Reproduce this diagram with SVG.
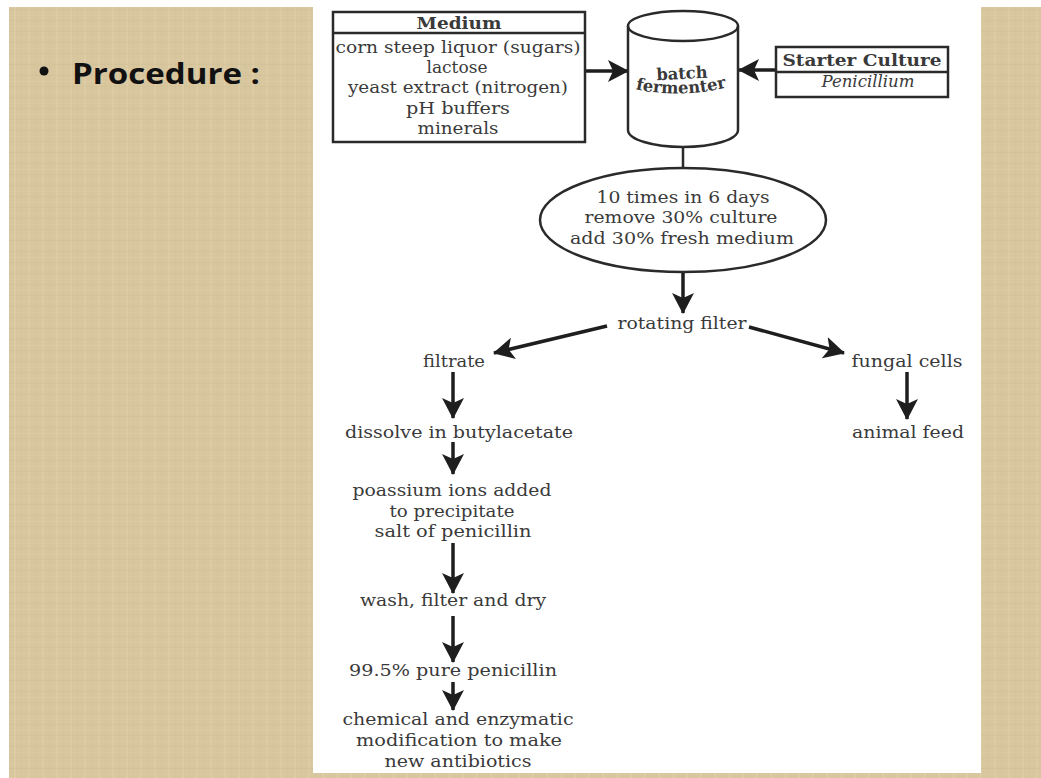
<svg xmlns="http://www.w3.org/2000/svg" width="1041" height="778" viewBox="0 0 1041 778">
  <defs>
    <pattern id="linen" width="14" height="11" patternUnits="userSpaceOnUse">
      <rect width="14" height="11" fill="#d8c69f"/>
      <rect x="0" y="0" width="2" height="11" fill="#e0d0ab" opacity="0.45"/>
      <rect x="7" y="0" width="1" height="11" fill="#cfbc92" opacity="0.35"/>
      <rect x="0" y="4" width="14" height="1" fill="#e2d3b0" opacity="0.3"/>
      <rect x="0" y="9" width="14" height="1" fill="#ccb98f" opacity="0.3"/>
    </pattern>
    <marker id="ah" viewBox="0 0 22 22" refX="20" refY="11" markerWidth="22" markerHeight="22" markerUnits="userSpaceOnUse" orient="auto">
      <path d="M0,0 L21,11 L0,22 L5,11 Z" fill="#1e1e1e"/>
    </marker>
    <style>
      .t { font-family: "DejaVu Serif", "Liberation Serif", serif; font-size: 16.5px; fill: #3a3a3a; text-anchor: middle; }
      .b { font-weight: bold; }
      .i { font-style: italic; }
      .box { fill: #ffffff; stroke: #2a2a2a; stroke-width: 2.5; }
      .ln { stroke: #2a2a2a; stroke-width: 2.5; fill: none; }
      .arr { stroke: #1e1e1e; stroke-width: 3.5; fill: none; marker-end: url(#ah); }
    </style>
  </defs>

  <!-- background -->
  <rect x="0" y="0" width="1041" height="778" fill="#ffffff"/>
  <rect x="9" y="7" width="1032" height="771" fill="url(#linen)"/>
  <rect x="313" y="7" width="668" height="766" fill="#ffffff"/>

  <!-- heading -->
  <g id="heading">
    <circle cx="44" cy="71" r="4.5" fill="#111"/>
    <text x="72" y="84" font-family="'Open Sans', 'Liberation Sans', sans-serif" font-weight="bold" font-size="29" fill="#111" textLength="188" lengthAdjust="spacingAndGlyphs">Procedure :</text>
  </g>

  <!-- connectors -->
  <g id="connectors">
    <line class="arr" x1="585" y1="71" x2="628" y2="71"/>
    <line class="arr" x1="776" y1="70" x2="739" y2="70"/>
    <line class="ln" x1="683" y1="147" x2="683" y2="168" stroke-width="3.5"/>
    <line class="arr" x1="683" y1="273" x2="683" y2="313"/>
    <line class="arr" x1="607" y1="326" x2="494" y2="353"/>
    <line class="arr" x1="749" y1="327" x2="844" y2="353"/>
    <line class="arr" x1="453" y1="372" x2="453" y2="418"/>
    <line class="arr" x1="907" y1="372" x2="907" y2="419"/>
    <line class="arr" x1="453" y1="442" x2="453" y2="474"/>
    <line class="arr" x1="453" y1="543" x2="453" y2="593"/>
    <line class="arr" x1="453" y1="616" x2="453" y2="662"/>
    <line class="arr" x1="453" y1="682" x2="453" y2="710"/>
  </g>

  <!-- Medium box -->
  <g id="medium">
    <rect class="box" x="333" y="12" width="252" height="130"/>
    <line class="ln" x1="333" y1="33" x2="585" y2="33"/>
    <text class="t b" x="459" y="29" textLength="85" lengthAdjust="spacingAndGlyphs">Medium</text>
    <text class="t" x="458" y="53" textLength="245" lengthAdjust="spacingAndGlyphs">corn steep liquor (sugars)</text>
    <text class="t" x="457" y="73" textLength="61" lengthAdjust="spacingAndGlyphs">lactose</text>
    <text class="t" x="458" y="93" textLength="220" lengthAdjust="spacingAndGlyphs">yeast extract (nitrogen)</text>
    <text class="t" x="458" y="114" textLength="104" lengthAdjust="spacingAndGlyphs">pH buffers</text>
    <text class="t" x="458" y="134" textLength="81" lengthAdjust="spacingAndGlyphs">minerals</text>
  </g>

  <!-- batch fermenter -->
  <g id="fermenter">
    <path class="box" d="M628,26 L628,130 A55,17 0 0 0 738,130 L738,26"/>
    <ellipse class="box" cx="683" cy="26" rx="55" ry="15"/>
    <path id="fpath" d="M634,89 Q681,99 728,87" fill="none"/>
    <text class="t b" x="682" y="79" font-size="15" transform="rotate(-3 682 74)" textLength="51" lengthAdjust="spacingAndGlyphs">batch</text>
    <text class="t b" font-size="15"><textPath href="#fpath" startOffset="50%" textLength="92" lengthAdjust="spacingAndGlyphs">fermenter</textPath></text>
  </g>

  <!-- Starter culture -->
  <g id="starter">
    <rect class="box" x="776" y="47" width="172" height="50"/>
    <line class="ln" x1="776" y1="72" x2="948" y2="72"/>
    <text class="t b" x="862" y="66" textLength="159" lengthAdjust="spacingAndGlyphs">Starter Culture</text>
    <text class="t i" x="868" y="87" textLength="93" lengthAdjust="spacingAndGlyphs">Penicillium</text>
  </g>

  <!-- cycle ellipse -->
  <g id="cycle">
    <ellipse class="box" cx="683" cy="220" rx="143" ry="52"/>
    <text class="t" x="683" y="203" textLength="173" lengthAdjust="spacingAndGlyphs">10 times in 6 days</text>
    <text class="t" x="681" y="223" textLength="193" lengthAdjust="spacingAndGlyphs">remove 30% culture</text>
    <text class="t" x="682" y="244" textLength="224" lengthAdjust="spacingAndGlyphs">add 30% fresh medium</text>
  </g>

  <g id="rotating-filter">
    <text class="t" x="682" y="329" textLength="129" lengthAdjust="spacingAndGlyphs">rotating filter</text>
  </g>
  <g id="filtrate">
    <text class="t" x="454" y="367" textLength="62" lengthAdjust="spacingAndGlyphs">filtrate</text>
  </g>
  <g id="fungal-cells">
    <text class="t" x="907" y="367" textLength="111" lengthAdjust="spacingAndGlyphs">fungal cells</text>
  </g>
  <g id="animal-feed">
    <text class="t" x="908" y="438" textLength="112" lengthAdjust="spacingAndGlyphs">animal feed</text>
  </g>
  <g id="dissolve">
    <text class="t" x="459" y="438" textLength="228" lengthAdjust="spacingAndGlyphs">dissolve in butylacetate</text>
  </g>
  <g id="potassium">
    <text class="t" x="452" y="496" textLength="199" lengthAdjust="spacingAndGlyphs">poassium ions added</text>
    <text class="t" x="452" y="517" textLength="125" lengthAdjust="spacingAndGlyphs">to precipitate</text>
    <text class="t" x="453" y="537" textLength="157" lengthAdjust="spacingAndGlyphs">salt of penicillin</text>
  </g>
  <g id="wash">
    <text class="t" x="453" y="606" textLength="186" lengthAdjust="spacingAndGlyphs">wash, filter and dry</text>
  </g>
  <g id="pure">
    <text class="t" x="453" y="676" textLength="208" lengthAdjust="spacingAndGlyphs">99.5% pure penicillin</text>
  </g>
  <g id="modification">
    <text class="t" x="458" y="725" textLength="231" lengthAdjust="spacingAndGlyphs">chemical and enzymatic</text>
    <text class="t" x="459" y="746" textLength="206" lengthAdjust="spacingAndGlyphs">modification to make</text>
    <text class="t" x="458" y="767" textLength="147" lengthAdjust="spacingAndGlyphs">new antibiotics</text>
  </g>
</svg>
